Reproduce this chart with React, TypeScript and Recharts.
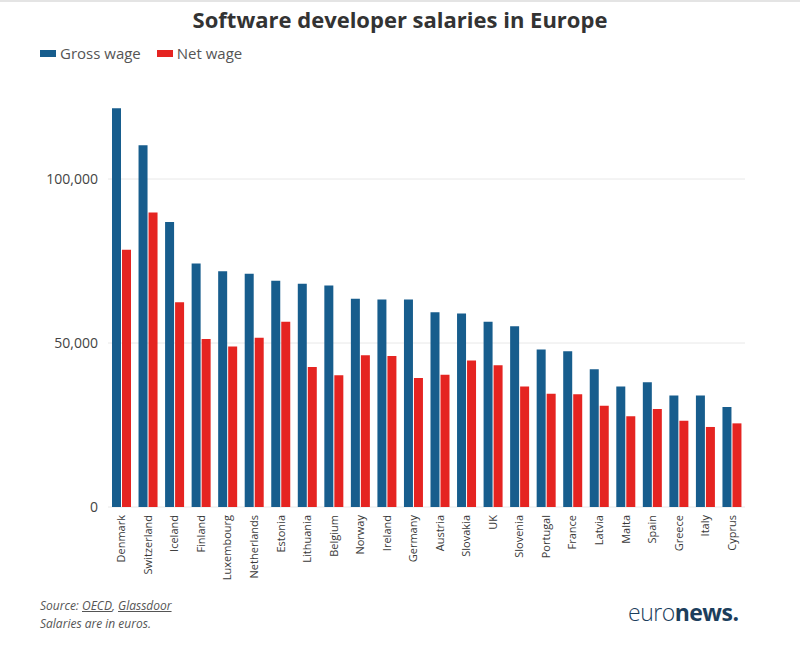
import { Bar, BarChart, CartesianGrid, XAxis, YAxis } from "recharts";

const COUNTRIES = [
  "Denmark", "Switzerland", "Iceland", "Finland", "Luxembourg", "Netherlands",
  "Estonia", "Lithuania", "Belgium", "Norway", "Ireland", "Germany",
  "Austria", "Slovakia", "UK", "Slovenia", "Portugal", "France",
  "Latvia", "Malta", "Spain", "Greece", "Italy", "Cyprus",
];
const GROSS = [
  121600, 110300, 86900, 74200, 71900, 71100, 69000, 68100, 67500, 63500, 63300, 63300,
  59400, 59000, 56500, 55100, 48000, 47500, 42000, 36700, 38000, 34000, 34000, 30500,
];
const NET = [
  78400, 89800, 62400, 51200, 48900, 51600, 56500, 42700, 40200, 46300, 46000, 39300,
  40300, 44700, 43200, 36700, 34500, 34400, 30900, 27700, 29900, 26300, 24400, 25500,
];
const Y_TICKS = [0, 50000, 100000];

const GROSS_COLOR = "#175d8d";
const NET_COLOR = "#e52421";
const FONT = "'Open Sans', 'Noto Sans', sans-serif";

const data = COUNTRIES.map((country, i) => ({ country, gross: GROSS[i], net: NET[i] }));

function CountryTick({ x, y, payload }: any) {
  return (
    <text
      x={x}
      y={y}
      transform={`rotate(-90, ${x}, ${y})`}
      textAnchor="end"
      dy={4}
      fontSize={11}
      fill="#3a3a3a"
      fontFamily={FONT}
    >
      {payload.value}
    </text>
  );
}

function Swatch({ color, label }: { color: string; label: string }) {
  return (
    <span style={{ display: "flex", alignItems: "center", marginRight: 16 }}>
      <span style={{ width: 16, height: 7, background: color, marginRight: 4, display: "inline-block" }} />
      {label}
    </span>
  );
}

export default function App() {
  return (
    <div
      style={{
        position: "fixed",
        left: 0,
        top: 0,
        width: 800,
        height: 660,
        background: "#fff",
        fontFamily: FONT,
        overflow: "hidden",
      }}
    >
      <div style={{ position: "absolute", left: 0, top: 0, width: 800, height: 2, background: "#e4e4e4" }} />
      <div
        style={{
          position: "absolute",
          top: 4,
          width: 800,
          textAlign: "center",
          fontSize: 22,
          fontWeight: 700,
          color: "#333",
        }}
      >
        Software developer salaries in Europe
      </div>
      <div style={{ position: "absolute", left: 40, top: 43, display: "flex", fontSize: 15, color: "#555" }}>
        <Swatch color={GROSS_COLOR} label="Gross wage" />
        <Swatch color={NET_COLOR} label="Net wage" />
      </div>
      <div style={{ position: "absolute", left: 0, top: 0 }}>
        <BarChart
          width={800}
          height={600}
          data={data}
          margin={{ top: 97, right: 55, bottom: 5, left: 48 }}
          barGap={1}
          barSize={9}
        >
          <CartesianGrid stroke="#e8e8e8" vertical={false} horizontalValues={Y_TICKS} />
          <XAxis
            dataKey="country"
            interval={0}
            height={88}
            tick={<CountryTick />}
            axisLine={false}
            tickLine={false}
          />
          <YAxis
            width={60}
            domain={[0, 125000]}
            ticks={Y_TICKS}
            tickFormatter={(v) => Number(v).toLocaleString("en-US")}
            tick={{ fill: "#444", fontSize: 14, fontFamily: FONT }}
            axisLine={false}
            tickLine={false}
            tickMargin={4}
          />
          <Bar dataKey="gross" name="Gross wage" fill={GROSS_COLOR} isAnimationActive={false} />
          <Bar dataKey="net" name="Net wage" fill={NET_COLOR} isAnimationActive={false} />
        </BarChart>
      </div>
      <div style={{ position: "absolute", left: 40, top: 597, fontSize: 12, fontStyle: "italic", color: "#555", lineHeight: "18px" }}>
        <div>
          Source: <span style={{ textDecoration: "underline" }}>OECD</span>,{" "}
          <span style={{ textDecoration: "underline" }}>Glassdoor</span>
        </div>
        <div>Salaries are in euros.</div>
      </div>
      <div style={{ position: "absolute", left: 628, top: 596, fontSize: 23, color: "#1c3e5c", letterSpacing: -0.5 }}>
        <span style={{ fontWeight: 300 }}>euro</span>
        <span style={{ fontWeight: 700 }}>news.</span>
      </div>
    </div>
  );
}
